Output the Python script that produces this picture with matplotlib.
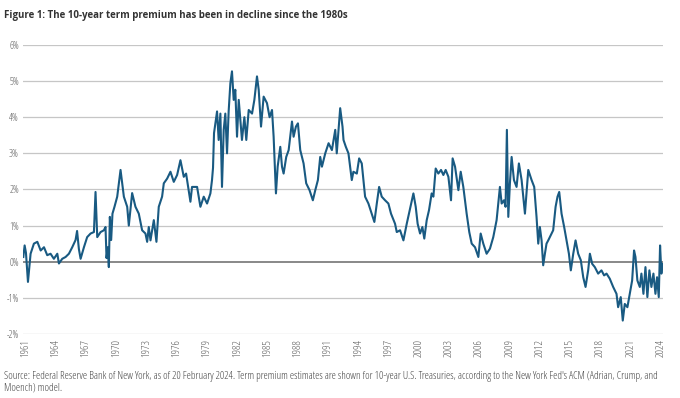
import matplotlib
matplotlib.use("Agg")
import matplotlib.pyplot as plt

# term premium (year, percent)
years = [
    1960.77, 1960.9, 1961.03, 1961.23, 1961.49, 1961.82, 1962.16, 1962.49, 1962.82,
    1963.14, 1963.47, 1963.8, 1964.14, 1964.3, 1964.63, 1964.96, 1965.29, 1965.62,
    1965.95, 1966.1, 1966.28, 1966.45, 1966.78, 1967.1, 1967.44, 1967.77, 1967.93,
    1968.1, 1968.43, 1968.76, 1968.92, 1969.02, 1969.15, 1969.25, 1969.35, 1969.48,
    1969.61, 1969.81, 1970.08, 1970.41, 1970.74, 1971.07, 1971.23, 1971.56, 1971.89,
    1972.22, 1972.55, 1972.88, 1973.05, 1973.21, 1973.38, 1973.71, 1973.97, 1974.2,
    1974.53, 1974.7, 1975.03, 1975.36, 1975.69, 1976.02, 1976.35, 1976.68, 1976.91,
    1977.17, 1977.34, 1977.5, 1978.0, 1978.33, 1978.66, 1978.99, 1979.32, 1979.48,
    1979.58, 1979.68, 1979.98, 1980.14, 1980.31, 1980.47, 1980.64, 1980.8, 1980.97,
    1981.13, 1981.3, 1981.46, 1981.63, 1981.79, 1981.96, 1982.13, 1982.45, 1982.69,
    1982.88, 1983.12, 1983.45, 1983.68, 1983.94, 1984.11, 1984.34, 1984.6, 1984.93,
    1985.19, 1985.43, 1985.59, 1985.82, 1985.99, 1986.25, 1986.42, 1986.58, 1986.84,
    1987.08, 1987.41, 1987.57, 1987.8, 1988.0, 1988.23, 1988.56, 1988.82, 1989.15,
    1989.48, 1989.72, 1989.98, 1990.21, 1990.38, 1990.71, 1991.04, 1991.37, 1991.7,
    1991.85, 1992.19, 1992.42, 1992.52, 1992.75, 1993.01, 1993.34, 1993.5, 1993.84,
    1994.07, 1994.33, 1994.66, 1994.99, 1995.32, 1995.58, 1995.82, 1996.05, 1996.31,
    1996.64, 1996.97, 1997.23, 1997.63, 1997.8, 1998.13, 1998.46, 1998.79, 1999.12,
    1999.45, 1999.68, 1999.87, 2000.11, 2000.34, 2000.53, 2000.77, 2001.0, 2001.26,
    2001.43, 2001.66, 2001.92, 2002.19, 2002.42, 2002.65, 2002.92, 2003.18, 2003.34,
    2003.58, 2003.91, 2004.14, 2004.4, 2004.73, 2004.99, 2005.23, 2005.56, 2005.89,
    2006.12, 2006.38, 2006.71, 2007.04, 2007.37, 2007.7, 2008.03, 2008.2, 2008.43,
    2008.59, 2008.72, 2008.86, 2009.02, 2009.19, 2009.42, 2009.68, 2009.91, 2010.18,
    2010.51, 2010.84, 2011.17, 2011.43, 2011.66, 2011.83, 2011.99, 2012.16, 2012.32,
    2012.49, 2012.65, 2012.82, 2013.31, 2013.55, 2013.74, 2013.91, 2014.14, 2014.4,
    2014.63, 2014.87, 2015.06, 2015.3, 2015.53, 2015.79, 2016.05, 2016.29, 2016.52,
    2016.78, 2016.95, 2017.18, 2017.44, 2017.77, 2018.1, 2018.36, 2018.6, 2018.92,
    2019.26, 2019.59, 2019.75, 2020.01, 2020.21, 2020.41, 2020.67, 2020.9, 2021.14,
    2021.33, 2021.47, 2021.66, 2021.9, 2022.06, 2022.26, 2022.46, 2022.65, 2022.85,
    2023.05, 2023.25, 2023.45, 2023.61, 2023.78, 2023.91, 2024.04, 2024.12,
]
premium = [
    0.13, 0.45, 0.25, -0.56, 0.22, 0.5, 0.55, 0.31, 0.4,
    0.18, 0.22, 0.08, 0.22, -0.05, 0.08, 0.13, 0.22, 0.4,
    0.6, 0.85, 0.35, 0.08, 0.4, 0.68, 0.78, 0.82, 1.93,
    0.68, 0.82, 0.87, 0.96, 0.1, 0.4, -0.15, 1.24, 0.6,
    1.33, 1.52, 1.8, 2.54, 1.8, 1.52, 1.0, 1.9, 1.52,
    1.33, 0.87, 0.78, 0.55, 0.96, 0.59, 1.15, 0.55, 1.52,
    1.8, 2.17, 2.3, 2.49, 2.21, 2.4, 2.81, 2.35, 2.44,
    1.98, 1.66, 2.07, 2.07, 1.52, 1.8, 1.61, 1.89, 2.26,
    2.6, 3.56, 4.16, 3.37, 4.1, 2.07, 3.65, 4.1, 3.0,
    4.16, 4.94, 5.27, 4.48, 4.76, 3.46, 4.48, 3.37, 4.0,
    3.37, 4.2, 4.1, 4.48, 5.13, 4.76, 3.74, 4.57, 4.39,
    4.0, 4.2, 3.46, 1.89, 2.63, 3.18, 2.63, 2.44, 2.9,
    3.09, 3.88, 3.46, 3.74, 3.83, 3.09, 2.72, 2.17, 1.98,
    1.7, 1.98, 2.26, 2.9, 2.63, 3.0, 3.28, 3.09, 3.65,
    3.0, 4.25, 3.74, 3.37, 3.18, 3.0, 2.26, 2.49, 2.44,
    2.86, 2.72, 1.8, 1.61, 1.33, 1.1, 1.61, 2.07, 1.8,
    1.7, 1.61, 1.33, 1.05, 0.82, 0.87, 0.59, 1.05, 1.47,
    1.89, 1.52, 1.05, 0.78, 0.96, 0.64, 1.15, 1.43, 1.89,
    1.8, 2.58, 2.44, 2.54, 2.4, 2.54, 2.35, 1.7, 2.86,
    2.63, 1.98, 2.49, 2.07, 1.33, 0.82, 0.5, 0.4, 0.13,
    0.78, 0.5, 0.22, 0.36, 0.68, 1.15, 2.07, 1.61, 1.7,
    1.52, 3.65, 1.24, 2.17, 2.9, 2.26, 2.07, 2.72, 2.26,
    1.33, 2.54, 2.26, 2.07, 1.24, 0.5, 0.96, 0.59, -0.1,
    0.22, 0.5, 0.59, 0.87, 1.52, 1.8, 1.93, 1.33, 0.96,
    0.59, 0.22, -0.24, 0.22, 0.59, 0.22, 0.04, -0.43, -0.7,
    -0.24, 0.22, -0.06, -0.15, -0.33, -0.24, -0.38, -0.33, -0.47,
    -0.7, -0.89, -1.26, -0.98, -1.63, -1.17, -1.26, -0.89, -0.52,
    0.31, 0.13, -0.52, -0.7, -0.33, -0.89, -0.15, -0.98, -0.24,
    -0.7, -0.33, -0.89, -0.43, -0.98, 0.45, -0.33, -0.06,
]

tick_years = list(range(1961, 2025, 3))
y_ticks = [-2, -1, 0, 1, 2, 3, 4, 5, 6]

title = "Figure 1: The 10-year term premium has been in decline since the 1980s"
source_1 = ("Source: Federal Reserve Bank of New York, as of 20 February 2024. Term premium estimates "
            "are shown for 10-year U.S. Treasuries, according to the New York Fed's ACM (Adrian, Crump, and")
source_2 = "Moench) model."

fig = plt.figure(figsize=(6.8, 3.98), dpi=100)
ax = fig.add_axes([0.034, 0.161, 0.941, 0.726])

for v in y_ticks:
    if v == 0:
        ax.axhline(v, color="#7f7f7f", lw=1.3, zorder=1)
    else:
        ax.axhline(v, color="#c6c6c6", lw=0.9, zorder=1)

ax.plot(years, premium, color="#195a82", lw=1.5, zorder=3)

ax.set_xlim(1960.75, 2024.2)
ax.set_ylim(-2, 6)
ax.set_yticks(y_ticks)
ax.set_yticklabels([f"{v}%" for v in y_ticks])
ax.set_xticks(tick_years)
ax.set_xticklabels([str(y) for y in tick_years], rotation=90)
ax.tick_params(length=0, labelcolor="#5a5a5a")
ax.tick_params(axis="y", pad=3, labelsize=7.0)
ax.tick_params(axis="x", pad=4, labelsize=8.0)
for lab in ax.get_xticklabels() + ax.get_yticklabels():
    lab.set_family("Open Sans")
    lab.set_stretch("condensed")
for s in ax.spines.values():
    s.set_visible(False)

fig.text(0.006, 0.975, title, fontsize=7.0, fontweight="bold", color="#333333",
         family="Open Sans", va="top", ha="left")

# small print: fit the first line to the width it takes in the reference
s1 = fig.text(0.006, 0.068, source_1, fontsize=6.5, color="#444444", va="top", ha="left",
              family="Open Sans", fontstretch="condensed")
r = fig.canvas.get_renderer()
w = s1.get_window_extent(renderer=r).width
size = 6.5 * 655 / w
s1.set_fontsize(size)
fig.text(0.006, 0.038, source_2, fontsize=size, color="#444444", va="top", ha="left",
         family="Open Sans", fontstretch="condensed")

fig.savefig("out.png", dpi=100)
